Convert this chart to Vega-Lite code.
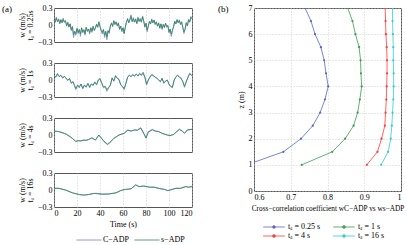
{
"$schema": "https://vega.github.io/schema/vega-lite/v6.json",
"padding": {"left": 1, "top": 3, "right": 0, "bottom": 0},
"background": "white",
"config": {
 "font": "Liberation Serif",
 "view": {"stroke": "#555", "strokeWidth": 1},
 "axis": {"labelFont": "Liberation Serif", "titleFont": "Liberation Serif", "labelFontSize": 8, "titleFontSize": 8, "titleFontWeight": "normal", "labelColor": "#000", "titleColor": "#000", "domain": false, "ticks": false, "gridColor": "#c4c4c4", "gridDash": [1, 2], "gridWidth": 0.8, "labelPadding": 2, "titlePadding": 3, "titleLineHeight": 8},
 "legend": {"labelFont": "Liberation Serif", "labelFontSize": 8, "labelColor": "#000"},
 "title": {"font": "Liberation Serif", "fontSize": 9, "fontWeight": "normal", "color": "#000"}
},
"datasets": {
 "ts": [
  {"p":1,"t":0,"c":0.09,"s":0.08},{"p":1,"t":1,"c":0.05,"s":0.05},{"p":1,"t":2,"c":0.14,"s":0.12},{"p":1,"t":3,"c":0.06,"s":0.06},{"p":1,"t":4,"c":0.11,"s":0.09},{"p":1,"t":5,"c":0.02,"s":0.03},{"p":1,"t":6,"c":0.10,"s":0.09},{"p":1,"t":7,"c":0.04,"s":0.04},{"p":1,"t":8,"c":0.12,"s":0.10},{"p":1,"t":9,"c":0.05,"s":0.05},
  {"p":1,"t":10,"c":0.08,"s":0.07},{"p":1,"t":11,"c":-0.02,"s":-0.01},{"p":1,"t":12,"c":0.05,"s":0.04},{"p":1,"t":13,"c":-0.04,"s":-0.03},{"p":1,"t":14,"c":0.02,"s":0.02},{"p":1,"t":15,"c":-0.10,"s":-0.08},{"p":1,"t":16,"c":-0.03,"s":-0.03},{"p":1,"t":17,"c":-0.22,"s":-0.17},{"p":1,"t":18,"c":-0.12,"s":-0.11},{"p":1,"t":19,"c":-0.18,"s":-0.15},
  {"p":1,"t":20,"c":-0.06,"s":-0.06},{"p":1,"t":21,"c":-0.15,"s":-0.13},{"p":1,"t":22,"c":-0.08,"s":-0.08},{"p":1,"t":23,"c":-0.20,"s":-0.16},{"p":1,"t":24,"c":-0.05,"s":-0.05},{"p":1,"t":25,"c":-0.14,"s":-0.12},{"p":1,"t":26,"c":-0.09,"s":-0.08},{"p":1,"t":27,"c":-0.18,"s":-0.15},{"p":1,"t":28,"c":-0.04,"s":-0.04},{"p":1,"t":29,"c":-0.12,"s":-0.10},
  {"p":1,"t":30,"c":-0.07,"s":-0.07},{"p":1,"t":31,"c":-0.16,"s":-0.13},{"p":1,"t":32,"c":-0.05,"s":-0.05},{"p":1,"t":33,"c":-0.13,"s":-0.11},{"p":1,"t":34,"c":-0.02,"s":-0.03},{"p":1,"t":35,"c":-0.10,"s":-0.09},{"p":1,"t":36,"c":-0.06,"s":-0.05},{"p":1,"t":37,"c":0.02,"s":0.01},{"p":1,"t":38,"c":-0.04,"s":-0.04},{"p":1,"t":39,"c":0.06,"s":0.05},
  {"p":1,"t":40,"c":-0.03,"s":-0.02},{"p":1,"t":41,"c":-0.10,"s":-0.09},{"p":1,"t":42,"c":-0.16,"s":-0.13},{"p":1,"t":43,"c":-0.08,"s":-0.08},{"p":1,"t":44,"c":-0.22,"s":-0.18},{"p":1,"t":45,"c":-0.12,"s":-0.11},{"p":1,"t":46,"c":-0.26,"s":-0.21},{"p":1,"t":47,"c":-0.10,"s":-0.10},{"p":1,"t":48,"c":-0.15,"s":-0.13},{"p":1,"t":49,"c":-0.02,"s":-0.02},
  {"p":1,"t":50,"c":0.04,"s":0.03},{"p":1,"t":51,"c":-0.03,"s":-0.02},{"p":1,"t":52,"c":0.08,"s":0.07},{"p":1,"t":53,"c":0.01,"s":0.01},{"p":1,"t":54,"c":0.06,"s":0.05},{"p":1,"t":55,"c":-0.02,"s":-0.01},{"p":1,"t":56,"c":0.04,"s":0.03},{"p":1,"t":57,"c":-0.08,"s":-0.07},{"p":1,"t":58,"c":-0.02,"s":-0.02},{"p":1,"t":59,"c":-0.12,"s":-0.10},
  {"p":1,"t":60,"c":-0.05,"s":-0.05},{"p":1,"t":61,"c":-0.16,"s":-0.14},{"p":1,"t":62,"c":-0.04,"s":-0.04},{"p":1,"t":63,"c":0.06,"s":0.05},{"p":1,"t":64,"c":0.12,"s":0.10},{"p":1,"t":65,"c":0.04,"s":0.04},{"p":1,"t":66,"c":0.10,"s":0.09},{"p":1,"t":67,"c":0.18,"s":0.15},{"p":1,"t":68,"c":0.06,"s":0.06},{"p":1,"t":69,"c":0.13,"s":0.11},
  {"p":1,"t":70,"c":0.05,"s":0.05},{"p":1,"t":71,"c":0.11,"s":0.10},{"p":1,"t":72,"c":0.02,"s":0.03},{"p":1,"t":73,"c":0.14,"s":0.12},{"p":1,"t":74,"c":0.07,"s":0.06},{"p":1,"t":75,"c":0.12,"s":0.10},{"p":1,"t":76,"c":0.05,"s":0.05},{"p":1,"t":77,"c":0.16,"s":0.14},{"p":1,"t":78,"c":0.08,"s":0.07},{"p":1,"t":79,"c":-0.04,"s":-0.03},
  {"p":1,"t":80,"c":0.03,"s":0.03},{"p":1,"t":81,"c":-0.12,"s":-0.09},{"p":1,"t":82,"c":-0.02,"s":-0.02},{"p":1,"t":83,"c":0.07,"s":0.06},{"p":1,"t":84,"c":0.02,"s":0.02},{"p":1,"t":85,"c":0.11,"s":0.09},{"p":1,"t":86,"c":0.04,"s":0.04},{"p":1,"t":87,"c":0.09,"s":0.08},{"p":1,"t":88,"c":0.01,"s":0.01},{"p":1,"t":89,"c":0.06,"s":0.05},
  {"p":1,"t":90,"c":-0.02,"s":-0.02},{"p":1,"t":91,"c":0.04,"s":0.03},{"p":1,"t":92,"c":-0.06,"s":-0.05},{"p":1,"t":93,"c":0.02,"s":0.02},{"p":1,"t":94,"c":-0.08,"s":-0.06},{"p":1,"t":95,"c":0.01,"s":0.01},{"p":1,"t":96,"c":-0.05,"s":-0.04},{"p":1,"t":97,"c":0.03,"s":0.03},{"p":1,"t":98,"c":-0.04,"s":-0.03},{"p":1,"t":99,"c":-0.01,"s":-0.01},
  {"p":1,"t":100,"c":-0.14,"s":-0.12},{"p":1,"t":101,"c":-0.08,"s":-0.07},{"p":1,"t":102,"c":-0.20,"s":-0.16},{"p":1,"t":103,"c":-0.10,"s":-0.09},{"p":1,"t":104,"c":-0.03,"s":-0.03},{"p":1,"t":105,"c":0.07,"s":0.06},{"p":1,"t":106,"c":0.02,"s":0.02},{"p":1,"t":107,"c":0.10,"s":0.09},{"p":1,"t":108,"c":0.04,"s":0.04},{"p":1,"t":109,"c":0.09,"s":0.08},
  {"p":1,"t":110,"c":0.01,"s":0.01},{"p":1,"t":111,"c":0.06,"s":0.05},{"p":1,"t":112,"c":-0.05,"s":-0.04},{"p":1,"t":113,"c":-0.15,"s":-0.12},{"p":1,"t":114,"c":-0.08,"s":-0.07},{"p":1,"t":115,"c":0.04,"s":0.04},{"p":1,"t":116,"c":-0.02,"s":-0.01},{"p":1,"t":117,"c":0.10,"s":0.09},{"p":1,"t":118,"c":0.05,"s":0.05},{"p":1,"t":119,"c":0.15,"s":0.13},{"p":1,"t":120,"c":0.12,"s":0.11},

  {"p":2,"t":0,"c":0.09,"s":0.08},{"p":2,"t":1.5,"c":0.05,"s":0.05},{"p":2,"t":3,"c":0.12,"s":0.10},{"p":2,"t":4.5,"c":0.06,"s":0.06},{"p":2,"t":6,"c":0.09,"s":0.08},{"p":2,"t":7.5,"c":0.03,"s":0.04},{"p":2,"t":9,"c":0.07,"s":0.06},{"p":2,"t":10.5,"c":0.03,"s":0.03},{"p":2,"t":12,"c":-0.01,"s":0.00},{"p":2,"t":13.5,"c":0.03,"s":0.02},
  {"p":2,"t":15,"c":-0.06,"s":-0.05},{"p":2,"t":16.5,"c":-0.03,"s":-0.03},{"p":2,"t":18,"c":-0.12,"s":-0.10},{"p":2,"t":19,"c":-0.17,"s":-0.15},{"p":2,"t":20.5,"c":-0.09,"s":-0.09},{"p":2,"t":22,"c":-0.14,"s":-0.12},{"p":2,"t":23.5,"c":-0.07,"s":-0.07},{"p":2,"t":25,"c":-0.16,"s":-0.14},{"p":2,"t":26.5,"c":-0.09,"s":-0.09},{"p":2,"t":28,"c":-0.13,"s":-0.12},
  {"p":2,"t":29.5,"c":-0.06,"s":-0.06},{"p":2,"t":31,"c":-0.14,"s":-0.12},{"p":2,"t":32.5,"c":-0.07,"s":-0.07},{"p":2,"t":34,"c":-0.10,"s":-0.09},{"p":2,"t":35.5,"c":-0.03,"s":-0.04},{"p":2,"t":37,"c":-0.09,"s":-0.08},{"p":2,"t":38.5,"c":0.00,"s":0.00},{"p":2,"t":40,"c":0.03,"s":0.02},{"p":2,"t":41.5,"c":-0.06,"s":-0.05},{"p":2,"t":43,"c":-0.14,"s":-0.12},
  {"p":2,"t":44.5,"c":-0.12,"s":-0.11},{"p":2,"t":46,"c":-0.20,"s":-0.17},{"p":2,"t":47.5,"c":-0.14,"s":-0.13},{"p":2,"t":49,"c":-0.10,"s":-0.09},{"p":2,"t":50.5,"c":0.04,"s":0.03},{"p":2,"t":52,"c":-0.02,"s":-0.02},{"p":2,"t":53.5,"c":0.08,"s":0.07},{"p":2,"t":55,"c":0.03,"s":0.03},{"p":2,"t":56.5,"c":0.01,"s":0.01},{"p":2,"t":58,"c":-0.09,"s":-0.08},
  {"p":2,"t":59.5,"c":-0.12,"s":-0.11},{"p":2,"t":61,"c":-0.17,"s":-0.15},{"p":2,"t":62.5,"c":-0.06,"s":-0.06},{"p":2,"t":64,"c":0.05,"s":0.05},{"p":2,"t":65.5,"c":0.09,"s":0.08},{"p":2,"t":67,"c":0.06,"s":0.06},{"p":2,"t":68.5,"c":0.10,"s":0.09},{"p":2,"t":70,"c":0.07,"s":0.07},{"p":2,"t":71.5,"c":0.11,"s":0.10},{"p":2,"t":73,"c":0.07,"s":0.07},
  {"p":2,"t":74.5,"c":0.12,"s":0.11},{"p":2,"t":76,"c":0.09,"s":0.08},{"p":2,"t":77.5,"c":0.14,"s":0.12},{"p":2,"t":79,"c":0.05,"s":0.05},{"p":2,"t":80.5,"c":-0.09,"s":-0.07},{"p":2,"t":82,"c":0.00,"s":0.00},{"p":2,"t":83.5,"c":0.06,"s":0.05},{"p":2,"t":85,"c":0.10,"s":0.09},{"p":2,"t":86.5,"c":0.08,"s":0.07},{"p":2,"t":88,"c":0.05,"s":0.05},
  {"p":2,"t":89.5,"c":0.03,"s":0.03},{"p":2,"t":91,"c":0.00,"s":0.00},{"p":2,"t":92.5,"c":-0.03,"s":-0.03},{"p":2,"t":94,"c":0.03,"s":0.03},{"p":2,"t":95.5,"c":-0.06,"s":-0.05},{"p":2,"t":97,"c":-0.02,"s":-0.02},{"p":2,"t":98.5,"c":0.00,"s":0.00},{"p":2,"t":100,"c":-0.08,"s":-0.07},{"p":2,"t":101.5,"c":-0.12,"s":-0.11},{"p":2,"t":103,"c":-0.14,"s":-0.12},
  {"p":2,"t":104.5,"c":0.00,"s":0.00},{"p":2,"t":106,"c":0.06,"s":0.05},{"p":2,"t":107.5,"c":0.09,"s":0.08},{"p":2,"t":109,"c":0.05,"s":0.05},{"p":2,"t":110.5,"c":0.03,"s":0.03},{"p":2,"t":112,"c":-0.03,"s":-0.03},{"p":2,"t":113.5,"c":-0.13,"s":-0.11},{"p":2,"t":115,"c":-0.03,"s":-0.03},{"p":2,"t":116.5,"c":0.05,"s":0.05},{"p":2,"t":118,"c":0.12,"s":0.11},{"p":2,"t":119.5,"c":0.09,"s":0.08},{"p":2,"t":120,"c":0.10,"s":0.09},

  {"p":3,"t":0,"c":0.07,"s":0.07},{"p":3,"t":4,"c":0.06,"s":0.06},{"p":3,"t":8,"c":0.03,"s":0.04},{"p":3,"t":11,"c":0.01,"s":0.01},{"p":3,"t":14,"c":-0.03,"s":-0.03},{"p":3,"t":16,"c":-0.06,"s":-0.06},{"p":3,"t":19,"c":-0.12,"s":-0.11},{"p":3,"t":21,"c":-0.10,"s":-0.10},{"p":3,"t":23,"c":-0.11,"s":-0.10},{"p":3,"t":26,"c":-0.09,"s":-0.09},
  {"p":3,"t":28,"c":-0.10,"s":-0.09},{"p":3,"t":30,"c":-0.08,"s":-0.08},{"p":3,"t":33,"c":-0.05,"s":-0.05},{"p":3,"t":36,"c":-0.09,"s":-0.09},{"p":3,"t":39,"c":0.00,"s":0.00},{"p":3,"t":41,"c":-0.05,"s":-0.05},{"p":3,"t":43.5,"c":-0.12,"s":-0.11},{"p":3,"t":46.5,"c":-0.17,"s":-0.16},{"p":3,"t":48.5,"c":-0.14,"s":-0.13},{"p":3,"t":52,"c":-0.06,"s":-0.06},
  {"p":3,"t":56.5,"c":0.00,"s":0.00},{"p":3,"t":61,"c":0.03,"s":0.03},{"p":3,"t":64,"c":0.09,"s":0.08},{"p":3,"t":67,"c":0.07,"s":0.07},{"p":3,"t":70,"c":0.09,"s":0.09},{"p":3,"t":72.5,"c":0.09,"s":0.08},{"p":3,"t":75.5,"c":0.13,"s":0.12},{"p":3,"t":78,"c":0.03,"s":0.03},{"p":3,"t":80,"c":-0.06,"s":-0.05},{"p":3,"t":82,"c":0.06,"s":0.05},
  {"p":3,"t":85.5,"c":0.10,"s":0.09},{"p":3,"t":88,"c":0.07,"s":0.07},{"p":3,"t":91,"c":0.06,"s":0.06},{"p":3,"t":94,"c":0.03,"s":0.03},{"p":3,"t":98.5,"c":0.00,"s":0.00},{"p":3,"t":101,"c":-0.01,"s":-0.01},{"p":3,"t":104,"c":0.01,"s":0.01},{"p":3,"t":107,"c":0.07,"s":0.06},{"p":3,"t":109,"c":0.10,"s":0.10},{"p":3,"t":111.5,"c":0.07,"s":0.07},
  {"p":3,"t":113.5,"c":0.03,"s":0.03},{"p":3,"t":116,"c":0.09,"s":0.09},{"p":3,"t":120,"c":0.10,"s":0.10},

  {"p":4,"t":0,"c":0.03,"s":0.03},{"p":4,"t":4,"c":0.03,"s":0.03},{"p":4,"t":10,"c":0.00,"s":0.00},{"p":4,"t":16,"c":-0.05,"s":-0.05},{"p":4,"t":22,"c":-0.08,"s":-0.08},{"p":4,"t":26,"c":-0.09,"s":-0.09},{"p":4,"t":30,"c":-0.08,"s":-0.08},{"p":4,"t":35,"c":-0.06,"s":-0.06},{"p":4,"t":38,"c":-0.07,"s":-0.06},{"p":4,"t":42,"c":-0.08,"s":-0.07},
  {"p":4,"t":48,"c":-0.07,"s":-0.07},{"p":4,"t":54,"c":-0.05,"s":-0.05},{"p":4,"t":58,"c":-0.01,"s":-0.01},{"p":4,"t":62,"c":0.01,"s":0.01},{"p":4,"t":67,"c":0.02,"s":0.02},{"p":4,"t":71,"c":0.09,"s":0.09},{"p":4,"t":74,"c":0.06,"s":0.06},{"p":4,"t":78,"c":0.07,"s":0.07},{"p":4,"t":83,"c":0.05,"s":0.05},{"p":4,"t":87,"c":0.05,"s":0.05},
  {"p":4,"t":91,"c":0.03,"s":0.03},{"p":4,"t":96,"c":0.01,"s":0.01},{"p":4,"t":99,"c":-0.01,"s":-0.01},{"p":4,"t":101,"c":0.00,"s":0.00},{"p":4,"t":106,"c":0.03,"s":0.03},{"p":4,"t":110,"c":0.03,"s":0.03},{"p":4,"t":114.5,"c":0.06,"s":0.06},{"p":4,"t":117,"c":0.05,"s":0.05},{"p":4,"t":120,"c":0.06,"s":0.06}
 ],
 "cc": [
  {"ta":"0.25","z":1,"r":0.58},{"ta":"0.25","z":1.5,"r":0.680},{"ta":"0.25","z":2,"r":0.728},{"ta":"0.25","z":2.5,"r":0.760},{"ta":"0.25","z":3,"r":0.780},{"ta":"0.25","z":3.5,"r":0.793},{"ta":"0.25","z":4,"r":0.802},{"ta":"0.25","z":4.5,"r":0.796},{"ta":"0.25","z":5,"r":0.791},{"ta":"0.25","z":5.5,"r":0.782},{"ta":"0.25","z":6,"r":0.766},{"ta":"0.25","z":6.5,"r":0.755},{"ta":"0.25","z":7,"r":0.739},
  {"ta":"1","z":1,"r":0.730},{"ta":"1","z":1.5,"r":0.813},{"ta":"1","z":2,"r":0.848},{"ta":"1","z":2.5,"r":0.871},{"ta":"1","z":3,"r":0.882},{"ta":"1","z":3.5,"r":0.888},{"ta":"1","z":4,"r":0.893},{"ta":"1","z":4.5,"r":0.891},{"ta":"1","z":5,"r":0.890},{"ta":"1","z":5.5,"r":0.886},{"ta":"1","z":6,"r":0.876},{"ta":"1","z":6.5,"r":0.868},{"ta":"1","z":7,"r":0.855},
  {"ta":"4","z":1,"r":0.907},{"ta":"4","z":1.5,"r":0.936},{"ta":"4","z":2,"r":0.947},{"ta":"4","z":2.5,"r":0.956},{"ta":"4","z":3,"r":0.958},{"ta":"4","z":3.5,"r":0.960},{"ta":"4","z":4,"r":0.961},{"ta":"4","z":4.5,"r":0.962},{"ta":"4","z":5,"r":0.962},{"ta":"4","z":5.5,"r":0.961},{"ta":"4","z":6,"r":0.959},{"ta":"4","z":6.5,"r":0.958},{"ta":"4","z":7,"r":0.957},
  {"ta":"16","z":1,"r":0.946},{"ta":"16","z":1.5,"r":0.965},{"ta":"16","z":2,"r":0.972},{"ta":"16","z":2.5,"r":0.975},{"ta":"16","z":3,"r":0.977},{"ta":"16","z":3.5,"r":0.979},{"ta":"16","z":4,"r":0.980},{"ta":"16","z":4.5,"r":0.980},{"ta":"16","z":5,"r":0.979},{"ta":"16","z":5.5,"r":0.979},{"ta":"16","z":6,"r":0.978},{"ta":"16","z":6.5,"r":0.977},{"ta":"16","z":7,"r":0.977}
 ]
},
"spacing": 22,
"resolve": {"scale": {"color": "independent"}, "legend": {"color": "independent"}},
"hconcat": [
 {
  "vconcat": [
   {
    "width": 138, "height": 34,
    "title": {"text": "(a)", "anchor": "start", "frame": "group", "dx": -52, "dy": 8, "offset": -9, "baseline": "alphabetic"},
    "data": {"name": "ts"},
    "transform": [{"filter": "datum.p == 1"}, {"fold": ["c", "s"], "as": ["k", "w"]}],
    "mark": {"type": "line", "strokeWidth": 0.8},
    "encoding": {
     "x": {"field": "t", "type": "quantitative", "scale": {"domain": [0, 120], "nice": false}, "axis": {"values": [0, 20, 40, 60, 80, 100, 120], "labels": false, "title": null, "grid": true}},
     "y": {"field": "w", "type": "quantitative", "scale": {"domain": [-0.3, 0.3], "nice": false}, "axis": {"values": [-0.3, 0, 0.3], "format": "~g", "grid": false, "title": ["w (m/s)", "tₐ = 0.25s"]}},
     "color": {"field": "k", "type": "nominal", "scale": {"domain": ["c", "s"], "range": ["#7584cc", "#30884f"]}, "legend": null}
    }
   },
   {
    "width": 138, "height": 34,
    "data": {"name": "ts"},
    "transform": [{"filter": "datum.p == 2"}, {"fold": ["c", "s"], "as": ["k", "w"]}],
    "mark": {"type": "line", "strokeWidth": 0.8},
    "encoding": {
     "x": {"field": "t", "type": "quantitative", "scale": {"domain": [0, 120], "nice": false}, "axis": {"values": [0, 20, 40, 60, 80, 100, 120], "labels": false, "title": null, "grid": true}},
     "y": {"field": "w", "type": "quantitative", "scale": {"domain": [-0.3, 0.3], "nice": false}, "axis": {"values": [-0.3, 0, 0.3], "format": "~g", "grid": false, "title": ["w (m/s)", "tₐ = 1s"]}},
     "color": {"field": "k", "type": "nominal", "scale": {"domain": ["c", "s"], "range": ["#7584cc", "#30884f"]}, "legend": null}
    }
   },
   {
    "width": 138, "height": 34,
    "data": {"name": "ts"},
    "transform": [{"filter": "datum.p == 3"}, {"fold": ["c", "s"], "as": ["k", "w"]}],
    "mark": {"type": "line", "strokeWidth": 0.8},
    "encoding": {
     "x": {"field": "t", "type": "quantitative", "scale": {"domain": [0, 120], "nice": false}, "axis": {"values": [0, 20, 40, 60, 80, 100, 120], "labels": false, "title": null, "grid": true}},
     "y": {"field": "w", "type": "quantitative", "scale": {"domain": [-0.3, 0.3], "nice": false}, "axis": {"values": [-0.3, 0, 0.3], "format": "~g", "grid": false, "title": ["w (m/s)", "tₐ = 4s"]}},
     "color": {"field": "k", "type": "nominal", "scale": {"domain": ["c", "s"], "range": ["#7584cc", "#30884f"]}, "legend": null}
    }
   },
   {
    "width": 138, "height": 34,
    "data": {"name": "ts"},
    "transform": [{"filter": "datum.p == 4"}, {"fold": ["c", "s"], "as": ["k", "w"]}],
    "mark": {"type": "line", "strokeWidth": 0.8},
    "encoding": {
     "x": {"field": "t", "type": "quantitative", "scale": {"domain": [0, 120], "nice": false}, "axis": {"values": [0, 20, 40, 60, 80, 100, 120], "title": "Time (s)", "grid": true}},
     "y": {"field": "w", "type": "quantitative", "scale": {"domain": [-0.3, 0.3], "nice": false}, "axis": {"values": [-0.3, 0, 0.3], "format": "~g", "grid": false, "title": ["w (m/s)", "tₐ = 16s"]}},
     "color": {"field": "k", "type": "nominal", "scale": {"domain": ["c", "s"], "range": ["#7584cc", "#30884f"]},
      "legend": {"orient": "none", "legendX": 30, "legendY": 62, "direction": "horizontal", "title": null, "symbolType": "M-2.8,0L2.8,0", "symbolSize": 81, "symbolStrokeWidth": 0.8, "labelOffset": 9, "labelExpr": "datum.label == 'c' ? 'C−ADP' : 's−ADP'", "columnPadding": 3}}
    }
   }
  ],
  "spacing": 21,
  "bounds": "flush",
  "resolve": {"legend": {"color": "independent"}}
 },
 {
  "width": 147, "height": 183,
  "title": {"text": "(b)", "anchor": "start", "frame": "group", "dx": -36, "dy": 8, "offset": -9, "baseline": "alphabetic"},
  "data": {"name": "cc"},
  "encoding": {
   "x": {"field": "r", "type": "quantitative", "scale": {"domain": [0.6, 1], "nice": false, "zero": false}, "axis": {"values": [0.6, 0.7, 0.8, 0.9, 1], "format": ".1~f", "grid": true, "title": "Cross−correlation coefficient wC−ADP vs ws−ADP", "titleFontSize": 7.3}},
   "y": {"field": "z", "type": "quantitative", "scale": {"domain": [0, 7], "nice": false}, "axis": {"values": [0, 1, 2, 3, 4, 5, 6, 7], "grid": true, "title": "z (m)"}},
   "color": {"field": "ta", "type": "nominal", "scale": {"domain": ["0.25", "1", "4", "16"], "range": ["#5468c8", "#3f9a52", "#ff3b3b", "#33cccc"]},
    "legend": {"orient": "none", "legendX": 15, "legendY": 214, "columns": 2, "direction": "horizontal", "title": null, "symbolType": "M-2.4,0L2.4,0M-0.3,0A0.3,0.3,0,1,0,0.3,0A0.3,0.3,0,1,0,-0.3,0Z", "symbolSize": 81, "symbolStrokeWidth": 0.8, "labelOffset": 9, "labelExpr": "'tₐ = ' + datum.label + ' s'", "columnPadding": 10, "rowPadding": 0}}
  },
  "layer": [
   {"mark": {"type": "line", "strokeWidth": 0.8, "clip": true}, "encoding": {"order": {"field": "z", "type": "quantitative"}}},
   {"mark": {"type": "point", "filled": true, "size": 5, "opacity": 1, "clip": true}}
  ]
 }
]
}
